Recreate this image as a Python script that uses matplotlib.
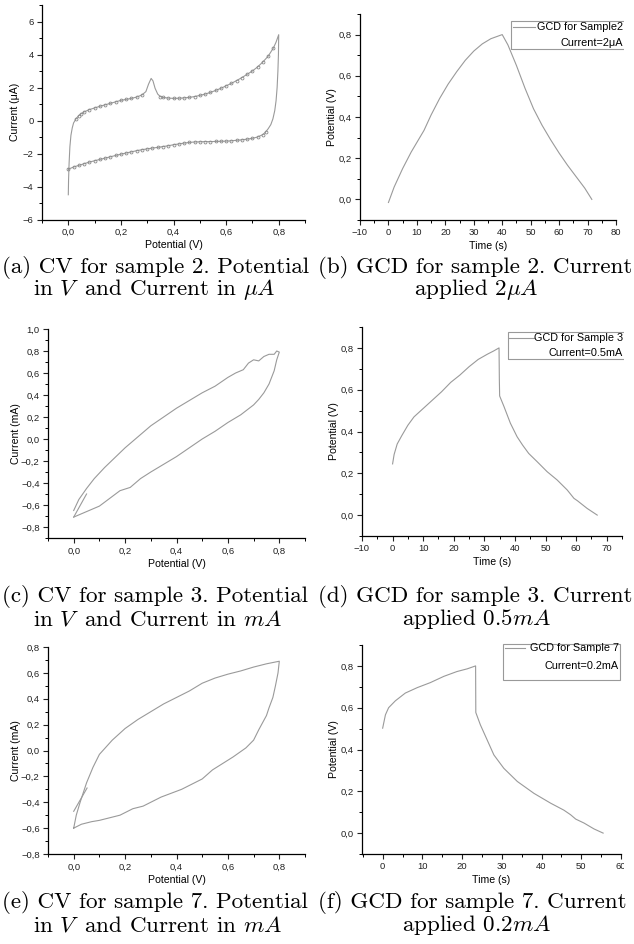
import numpy as np
import matplotlib.pyplot as plt
from matplotlib.ticker import MultipleLocator, FuncFormatter
from matplotlib.patches import Rectangle
from matplotlib.lines import Line2D

plt.rcParams['font.family'] = ['Liberation Sans', 'DejaVu Sans']
plt.rcParams['mathtext.fontset'] = 'cm'

W, H = 634, 944

# (a) CV sample 2, potential (V) vs current (uA): forward sweep then reverse sweep
cv2_v = [0.0, 0.001, 0.003, 0.006, 0.01, 0.015, 0.02, 0.03, 0.04, 0.05, 0.06, 0.08, 0.10, 0.12,
         0.14, 0.16, 0.18, 0.20, 0.22, 0.24, 0.26, 0.28, 0.295, 0.305, 0.315, 0.322, 0.33, 0.34,
         0.35, 0.36, 0.38, 0.40, 0.42, 0.44, 0.46, 0.48, 0.50, 0.52, 0.54, 0.56, 0.58, 0.60,
         0.62, 0.64, 0.66, 0.68, 0.70, 0.72, 0.74, 0.76, 0.78, 0.79, 0.80,
         0.799, 0.797, 0.794, 0.79, 0.785, 0.778, 0.77, 0.76, 0.75, 0.74, 0.72, 0.70, 0.68,
         0.66, 0.64, 0.62, 0.60, 0.58, 0.56, 0.54, 0.52, 0.50, 0.48, 0.46, 0.44, 0.42, 0.40,
         0.38, 0.36, 0.34, 0.32, 0.30, 0.28, 0.26, 0.24, 0.22, 0.20, 0.18, 0.16, 0.14, 0.12,
         0.10, 0.08, 0.06, 0.04, 0.02, 0.0]
cv2_i = [-4.5, -3.6, -2.6, -1.6, -0.9, -0.45, -0.15, 0.12, 0.3, 0.42, 0.52, 0.66, 0.76, 0.86,
         0.95, 1.04, 1.13, 1.22, 1.28, 1.34, 1.42, 1.55, 1.75, 2.2, 2.55, 2.4, 1.95, 1.6,
         1.45, 1.4, 1.36, 1.34, 1.35, 1.37, 1.4, 1.45, 1.52, 1.6, 1.7, 1.82, 1.95, 2.1,
         2.25, 2.42, 2.6, 2.8, 3.0, 3.25, 3.55, 3.9, 4.4, 4.75, 5.2,
         4.0, 3.0, 2.0, 1.2, 0.6, 0.1, -0.25, -0.5, -0.7, -0.85, -1.0, -1.08, -1.13,
         -1.17, -1.2, -1.23, -1.25, -1.26, -1.27, -1.28, -1.28, -1.29, -1.3, -1.33, -1.37, -1.42, -1.47,
         -1.53, -1.58, -1.63, -1.67, -1.72, -1.77, -1.83, -1.9, -1.97, -2.04, -2.12, -2.2, -2.28, -2.36,
         -2.44, -2.52, -2.62, -2.72, -2.82, -2.95]

# (b) GCD sample 2, time (s) vs potential (V)
gcd2_t = [0, 2, 5, 8, 11, 12.5, 15, 18, 21, 24, 27, 30, 33, 36, 38, 40,
          42, 45, 48, 51, 54, 57, 60, 63, 66, 69, 71.5]
gcd2_u = [-0.015, 0.06, 0.15, 0.23, 0.3, 0.335, 0.41, 0.49, 0.56, 0.62, 0.675, 0.72, 0.755, 0.78, 0.79, 0.8,
          0.75, 0.65, 0.54, 0.44, 0.36, 0.29, 0.225, 0.165, 0.11, 0.055, 0.0]

# (c) CV sample 3, potential (V) vs current (mA)
cv3_v = [0.0, 0.02, 0.05, 0.08, 0.12, 0.16, 0.2, 0.25, 0.3, 0.35, 0.4, 0.45, 0.5, 0.55, 0.6,
         0.63, 0.66, 0.68, 0.7, 0.72, 0.74, 0.76, 0.78, 0.79, 0.8,
         0.79, 0.78, 0.76, 0.74, 0.72, 0.7, 0.65, 0.6, 0.55, 0.5, 0.45, 0.4, 0.35, 0.3, 0.26,
         0.22, 0.18, 0.14, 0.1, 0.06, 0.03, 0.0]
cv3_i = [-0.65, -0.55, -0.45, -0.36, -0.26, -0.17, -0.08, 0.02, 0.12, 0.2, 0.28, 0.35, 0.42, 0.48, 0.56,
         0.6, 0.63, 0.69, 0.72, 0.71, 0.75, 0.77, 0.77, 0.8, 0.79,
         0.72, 0.62, 0.5, 0.42, 0.36, 0.31, 0.22, 0.15, 0.07, 0.0, -0.08, -0.16, -0.23, -0.3, -0.36,
         -0.44, -0.47, -0.54, -0.61, -0.65, -0.68, -0.71]
cv3_stub_v = [0.0, 0.05]
cv3_stub_i = [-0.71, -0.5]

# (d) GCD sample 3
gcd3_t = [0, 0.5, 1.5, 3, 5, 7, 10, 13, 16, 19, 22, 25, 28, 31, 33, 34.8,
          34.9, 35.0, 36.4, 38.5, 40.7, 42.5, 44.5, 47.3, 50.5, 53.8, 57.1, 59.3, 60.4, 63.6, 66.9]
gcd3_u = [0.245, 0.29, 0.34, 0.38, 0.43, 0.47, 0.51, 0.55, 0.59, 0.635, 0.67, 0.71, 0.745, 0.77, 0.785, 0.8,
          0.65, 0.57, 0.52, 0.44, 0.375, 0.335, 0.295, 0.255, 0.208, 0.168, 0.12, 0.08, 0.069, 0.032, 0.0]

# (e) CV sample 7
cv7_v = [0.0, 0.01, 0.025, 0.05, 0.075, 0.1, 0.15, 0.2, 0.25, 0.3, 0.35, 0.4, 0.45, 0.5, 0.55,
         0.6, 0.65, 0.7, 0.75, 0.8,
         0.795, 0.785, 0.775, 0.76, 0.75, 0.72, 0.7, 0.67, 0.62, 0.58, 0.54, 0.5, 0.46, 0.42,
         0.38, 0.34, 0.3, 0.27, 0.23, 0.18, 0.14, 0.1, 0.07, 0.03, 0.0]
cv7_i = [-0.6, -0.5, -0.4, -0.25, -0.13, -0.03, 0.08, 0.17, 0.24, 0.3, 0.36, 0.41, 0.46, 0.52, 0.56,
         0.59, 0.615, 0.645, 0.67, 0.69,
         0.6, 0.5, 0.41, 0.33, 0.27, 0.16, 0.08, 0.02, -0.05, -0.1, -0.15, -0.22, -0.26, -0.3,
         -0.33, -0.36, -0.4, -0.43, -0.45, -0.5, -0.52, -0.54, -0.55, -0.57, -0.6]
cv7_stub_v = [0.0, 0.052]
cv7_stub_i = [-0.47, -0.29]

# (f) GCD sample 7
gcd7_t = [0, 0.7, 1.5, 3.2, 5.7, 8.7, 12, 15.4, 18.7, 21.3, 23.4,
          23.45, 24.6, 26.3, 28, 30.5, 33.9, 38.1, 42.3, 45.6, 47.3, 48.6, 50.7, 53.2, 55.5]
gcd7_u = [0.502, 0.566, 0.6, 0.633, 0.67, 0.696, 0.72, 0.75, 0.773, 0.786, 0.8,
          0.577, 0.518, 0.446, 0.374, 0.31, 0.247, 0.19, 0.143, 0.11, 0.088, 0.067, 0.048, 0.02, 0.0]

LINE = '#9a9a9a'

fig = plt.figure(figsize=(W / 100, H / 100), dpi=100)


def fx(x):
    return x / W


def fy(y):
    return 1 - y / H


def dec(v, pos):
    s = '%.1f' % v
    if s == '-0.0':
        s = '0.0'
    return s.replace('.', ',').replace('-', '\u2212')


def integer(v, pos):
    return ('%d' % round(v)).replace('-', '\u2212')


def panel(box, xlim, ylim, xmaj, ymaj, xfmt, yfmt, xlabel, ylabel, ylab_x):
    l, t, r, b = box
    ax = fig.add_axes([fx(l), fy(b), (r - l) / W, (b - t) / H])
    ax.set_xlim(xlim)
    ax.set_ylim(ylim)
    for s in ['top', 'right']:
        ax.spines[s].set_visible(False)
    for s in ['left', 'bottom']:
        ax.spines[s].set_linewidth(0.9)
    ax.xaxis.set_major_locator(MultipleLocator(xmaj))
    ax.xaxis.set_minor_locator(MultipleLocator(xmaj / 2))
    ax.yaxis.set_major_locator(MultipleLocator(ymaj))
    ax.yaxis.set_minor_locator(MultipleLocator(ymaj / 2))
    ax.xaxis.set_major_formatter(FuncFormatter(xfmt))
    ax.yaxis.set_major_formatter(FuncFormatter(yfmt))
    ax.tick_params(which='major', direction='out', length=3.5, width=0.8, labelsize=6.8,
                   pad=2.5, colors='#222222')
    ax.tick_params(which='minor', direction='out', length=2, width=0.7)
    ax.set_xlabel(xlabel, fontsize=7.6)
    ax.set_ylabel(ylabel, fontsize=7.6)
    ax.xaxis.set_label_coords(0.5, -21 / (b - t))
    ax.yaxis.set_label_coords((ylab_x - l) / (r - l), 0.5)
    return ax


def legend(x0, y0, x1, y1, line_y, lx0, lx1, text1, text2, t1y, t2y, tx):
    fig.add_artist(Rectangle((fx(x0), fy(y1)), (x1 - x0) / W, (y1 - y0) / H,
                             transform=fig.transFigure, fill=False, ec='#999999', lw=0.8))
    fig.add_artist(Line2D([fx(lx0), fx(lx1)], [fy(line_y), fy(line_y)],
                          transform=fig.transFigure, color=LINE, lw=0.8))
    fig.text(fx(tx), fy(t1y), text1, ha='right', va='center', fontsize=7.8)
    fig.text(fx(tx), fy(t2y), text2, ha='right', va='center', fontsize=7.8)


# (a)
ax = panel((42, 5, 305, 219.5), (-0.1, 0.9), (-6, 7), 0.2, 2, dec, integer,
           'Potential (V)', 'Current (\u03bcA)', 20)
v = np.array(cv2_v)
n_up = cv2_v.index(0.80) + 1
idx = np.arange(len(v))
mark = ((idx < n_up) & (((v >= 0.03) & (v <= 0.28)) | ((v >= 0.35) & (v <= 0.78)))) | \
       ((idx >= n_up) & (v <= 0.75))
ax.plot(cv2_v, cv2_i, color=LINE, lw=0.8, marker='o', ms=2.1, mfc='none', mec='#8a8a8a',
        mew=0.6, markevery=list(mark))

# (b)
ax = panel((360, 14, 616, 220), (-10, 80), (-0.1, 0.9), 10, 0.2, integer, dec,
           'Time (s)', 'Potential (V)', 337)
ax.plot(gcd2_t, gcd2_u, color=LINE, lw=0.8)
legend(511, 21, 640, 49, 27, 513, 535, 'GCD for Sample2', 'Current=2\u03bcA', 27, 43, 623)

# (c)
ax = panel((48, 329, 305, 538), (-0.1, 0.9), (-0.9, 1.0), 0.2, 0.2, dec, dec,
           'Potential (V)', 'Current (mA)', 21)
ax.plot(cv3_v, cv3_i, color=LINE, lw=0.8)
ax.plot(cv3_stub_v, cv3_stub_i, color=LINE, lw=0.8)

# (d)
ax = panel((362, 327, 622, 536), (-10, 75), (-0.1, 0.9), 10, 0.2, integer, dec,
           'Time (s)', 'Potential (V)', 339)
ax.plot(gcd3_t, gcd3_u, color=LINE, lw=0.8)
legend(508, 332, 640, 359, 338, 509, 534, 'GCD for Sample 3', 'Current=0.5mA', 338, 353, 623)

# (e)
ax = panel((48, 647, 305, 854), (-0.1, 0.9), (-0.8, 0.8), 0.2, 0.2, dec, dec,
           'Potential (V)', 'Current (mA)', 21)
ax.plot(cv7_v, cv7_i, color=LINE, lw=0.8)
ax.plot(cv7_stub_v, cv7_stub_i, color=LINE, lw=0.8)

# (f)
ax = panel((362, 645, 621, 854), (-5.2, 60), (-0.1, 0.9), 10, 0.2, integer, dec,
           'Time (s)', 'Potential (V)', 339)
ax.plot(gcd7_t, gcd7_u, color=LINE, lw=0.8)
legend(503, 644, 620, 680, 648, 505, 525, 'GCD for Sample 7', 'Current=0.2mA', 648, 666, 619)

# the right-hand subfigures are cropped at x ~ 624
for y0, y1 in [(0, 253), (305, 574), (632, 888)]:
    fig.add_artist(Rectangle((fx(623.5), fy(y1)), (W - 623.5) / W, (y1 - y0) / H,
                             transform=fig.transFigure, fc='white', ec='none', zorder=20))

# captions
cap = dict(fontsize=16.6, family='cmr10', va='center')
captions = [
    (267, 290, '(a) CV for sample 2. Potential', r'in $V\,$ and Current in $\mu A$',
     '(b) GCD for sample 2. Current', r'applied $2\mu A$'),
    (596, 619, '(c) CV for sample 3. Potential', r'in $V\,$ and Current in $mA$',
     '(d) GCD for sample 3. Current', r'applied $0.5mA$'),
    (902, 925, '(e) CV for sample 7. Potential', r'in $V\,$ and Current in $mA$',
     '(f) GCD for sample 7. Current', r'applied $0.2mA$'),
]
for y1, y2, a1, a2, b1, b2 in captions:
    fig.text(fx(2), fy(y1), a1, ha='left', **cap)
    fig.text(fx(33), fy(y2), a2, ha='left', **cap)
    fig.text(fx(318), fy(y1), b1, ha='left', **cap)
    fig.text(fx(476), fy(y2), b2, ha='center', **cap)

fig.savefig('out.png', dpi=100)
